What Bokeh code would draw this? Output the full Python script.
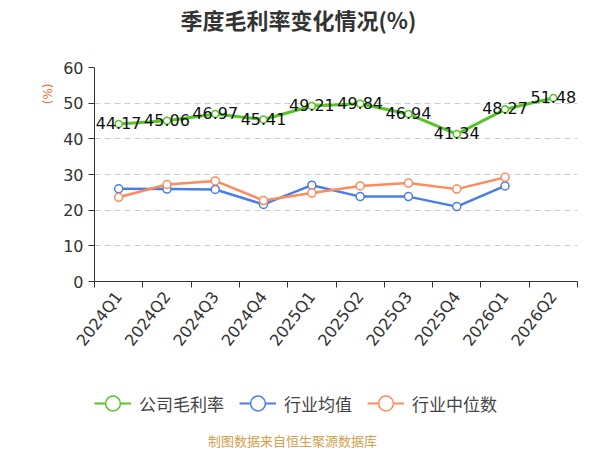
from bokeh.plotting import figure
from bokeh.layouts import column
from bokeh.models import (Range1d, FixedTicker, Legend, LegendItem, Title, Label,
                          ColumnDataSource)
from bokeh.core.properties import value
from bokeh.embed import file_html
from bokeh.resources import INLINE

quarters = ["2024Q1", "2024Q2", "2024Q3", "2024Q4", "2025Q1",
            "2025Q2", "2025Q3", "2025Q4", "2026Q1", "2026Q2"]
company = [44.17, 45.06, 46.97, 45.41, 49.21, 49.84, 46.94, 41.34, 48.27, 51.48]
ind_mean = [26.0, 25.9, 25.8, 21.6, 27.0, 23.8, 23.8, 21.0, 26.8]
ind_median = [23.6, 27.2, 28.2, 22.7, 24.8, 26.8, 27.6, 25.9, 29.2]
y_ticks = [0, 10, 20, 30, 40, 50, 60]

title_text = "季度毛利率变化情况(%)"
y_name = "(%)"
footer_text = "制图数据来自恒生聚源数据库"
series_names = ["公司毛利率", "行业均值", "行业中位数"]

GREEN = "#58c428"
BLUE = "#4a7de6"
ORANGE = "#ff8a5b"

NUM_FONT = "DejaVu Sans"
CJK_FONT = "Noto Sans CJK SC"

xs_all = [i + 0.5 for i in range(len(quarters))]

TOP_H = 364
p = figure(width=600, height=TOP_H, output_backend="svg", toolbar_location=None,
           title=None,
           x_range=Range1d(0, len(quarters)), y_range=Range1d(y_ticks[0], y_ticks[-1]),
           min_border_left=94, min_border_right=23, min_border_top=67,
           min_border_bottom=83)
p.outline_line_color = None
p.background_fill_color = "white"
p.border_fill_color = "white"

# axes
p.xaxis.ticker = FixedTicker(ticks=xs_all, minor_ticks=list(range(len(quarters) + 1)))
p.xaxis.major_label_overrides = {x: q for x, q in zip(xs_all, quarters)}
p.xaxis.major_tick_out = 0
p.xaxis.major_tick_in = 0
p.xaxis.minor_tick_out = 6
p.xaxis.minor_tick_in = 0
p.xaxis.minor_tick_line_color = "#333333"
p.xaxis.axis_line_color = "#333333"
p.xaxis.major_label_orientation = 0.92
p.xaxis.major_label_standoff = 6
p.xaxis.major_label_text_font = NUM_FONT
p.xaxis.major_label_text_font_size = "16px"
p.xaxis.major_label_text_color = "#333333"

p.yaxis.ticker = FixedTicker(ticks=y_ticks)
p.yaxis.minor_tick_line_color = None
p.yaxis.major_tick_out = 6
p.yaxis.major_tick_in = 0
p.yaxis.major_tick_line_color = "#333333"
p.yaxis.axis_line_color = "#333333"
p.yaxis.major_label_standoff = 5
p.yaxis.major_label_text_font = NUM_FONT
p.yaxis.major_label_text_font_size = "16px"
p.yaxis.major_label_text_color = "#333333"

p.xgrid.grid_line_color = None
p.ygrid.grid_line_color = "#cccccc"
p.ygrid.grid_line_dash = "6 4"
p.ygrid.grid_line_width = 1

# series
src_c = ColumnDataSource(dict(x=xs_all, y=company, t=[f"{v:.2f}" for v in company]))
src_m = ColumnDataSource(dict(x=xs_all[:len(ind_mean)], y=ind_mean))
src_d = ColumnDataSource(dict(x=xs_all[:len(ind_median)], y=ind_median))

p.line("x", "y", source=src_m, line_color=BLUE, line_width=2.5)
p.scatter("x", "y", source=src_m, size=8, marker="circle", fill_color="white",
          line_color=BLUE, line_width=1.5)
p.line("x", "y", source=src_d, line_color=ORANGE, line_width=2.5)
p.scatter("x", "y", source=src_d, size=8, marker="circle", fill_color="white",
          line_color=ORANGE, line_width=1.5)
p.line("x", "y", source=src_c, line_color=GREEN, line_width=3)
p.scatter("x", "y", source=src_c, size=7, marker="circle", fill_color="white",
          line_color=GREEN, line_width=1.5)
p.text("x", "y", text="t", source=src_c, text_align="center", text_baseline="middle",
       y_offset=-1, text_font=value(NUM_FONT), text_font_size="16px", text_color="#111111")

# above: spacer then title
p.add_layout(Title(text=" ", text_font_size="1px", standoff=29), "above")
p.add_layout(Title(text=title_text, align="left", offset=86, standoff=0,
                   vertical_align="middle", text_font=CJK_FONT,
                   text_font_size="22px", text_font_style="bold",
                   text_color="#333333"), "above")

# left: axis name
p.add_layout(Title(text=y_name, align="right", offset=16, standoff=10,
                   vertical_align="middle", text_font=NUM_FONT,
                   text_font_size="12px", text_font_style="normal",
                   text_color="#f07038"), "left")

# ----- lower strip: legend + source note (its frame aligns with the chart's) -----
BOT_H = 450 - TOP_H
q = figure(width=600, height=BOT_H, output_backend="svg", toolbar_location=None,
           title=None, x_axis_type=None, y_axis_type=None,
           x_range=Range1d(0, 1), y_range=Range1d(0, 1), min_border=0)
q.outline_line_color = None
q.xgrid.grid_line_color = None
q.ygrid.grid_line_color = None
q.background_fill_color = "white"
q.border_fill_color = "white"

items = []
for name, col, ys in zip(series_names, [GREEN, BLUE, ORANGE], [company, ind_mean, ind_median]):
    # same series data; lies outside this strip's (0..1) ranges, so only the legend icon shows
    src = ColumnDataSource(dict(x=xs_all[:len(ys)], y=ys))
    lr = q.line("x", "y", source=src, line_color=col, line_width=2)
    sr = q.scatter("x", "y", source=src, size=15, marker="circle",
                   fill_color="white", line_color=col, line_width=1.5)
    items.append(LegendItem(label=name, renderers=[lr, sr]))
legend = Legend(items=items, orientation="horizontal", location=(0, 28),
                glyph_width=37, glyph_height=38, label_height=20,
                label_standoff=8, spacing=15, padding=0, margin=0,
                border_line_color=None, background_fill_alpha=0,
                label_text_font=CJK_FONT, label_text_font_size="17px",
                label_text_color="#444444")
q.add_layout(legend, "center")

q.add_layout(Label(x=198, y=10, x_units="screen", y_units="screen",
                   text=footer_text, text_align="center", text_baseline="middle",
                   text_font=CJK_FONT, text_font_size="13px", text_color="#d4a04c"))

layout = column(p, q, spacing=0)
open("out.html", "w").write(file_html(layout, INLINE))
